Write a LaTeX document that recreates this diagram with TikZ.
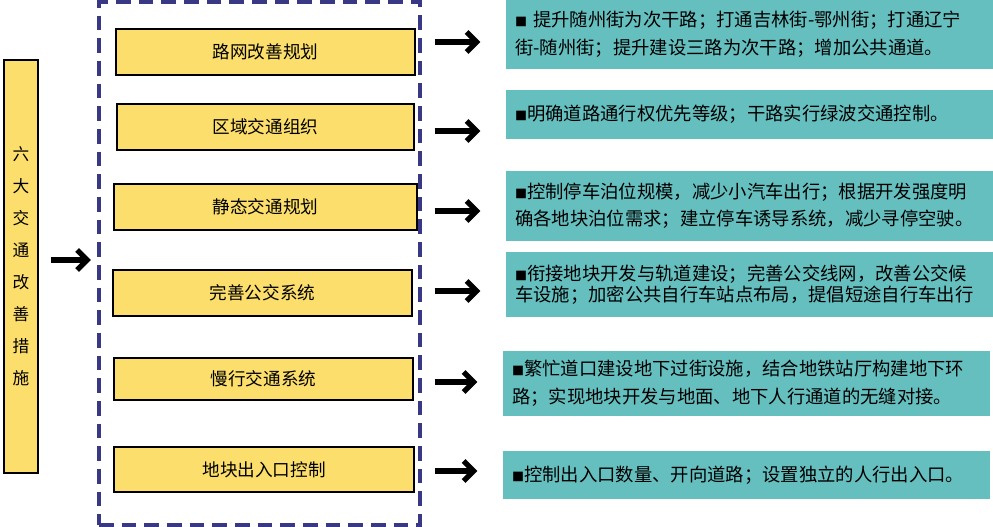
\documentclass[tikz,border=0pt]{standalone}
\usepackage{fontspec}
\setmainfont{Noto Sans CJK SC}
\usetikzlibrary{arrows.meta}
\definecolor{yboxc}{HTML}{FCDE6C}
\definecolor{tboxc}{HTML}{66BFBF}
\definecolor{navyc}{HTML}{383885}
\newcommand{\tbul}{{\fontsize{9}{9}\selectfont ■}}
\begin{document}
\begin{tikzpicture}[x=0.75pt,y=-0.75pt,
  sz/.style 2 args={minimum width=#1*0.75pt, minimum height=#2*0.75pt},
  ybox/.style={draw=black, line width=0.8pt, fill=yboxc, inner sep=0pt,
    font=\fontsize{13.2}{15}\selectfont},
  tbox/.style={fill=tboxc, inner xsep=9*0.75pt, inner ysep=0pt, align=left,
    text width=469*0.75pt, font=\fontsize{13.75}{21}\selectfont},
  frame/.style={draw=navyc, line width=2.3pt, dash pattern=on 11pt off 6pt},
  arr/.style={line width=4pt, -{Straight Barb[length=7.5pt, width=15pt]}}
]
\useasboundingbox (0,0) rectangle (993,527);
% left vertical box
\node[ybox, sz={34}{413}, align=center, font=\fontsize{12.5}{24}\selectfont]
  (lbox) at (21,266.5) {六\\大\\交\\通\\改\\善\\措\\施};
% dashed container
\node[frame, sz={321}{523}] (container) at (259.5,263.5) {};
% yellow boxes
\node[ybox, sz={299}{46}] (y1) at (265.5,52) {路网改善规划};
\node[ybox, sz={297}{46}] (y2) at (265.5,127) {区域交通组织};
\node[ybox, sz={303}{46}] (y3) at (265.5,207) {静态交通规划};
\node[ybox, sz={299}{46}] (y4) at (262.5,293) {完善公交系统};
\node[ybox, sz={299}{42}] (y5) at (263.5,379) {慢行交通系统};
\node[ybox, sz={300}{45}] (y6) at (264,469.5) {地块出入口控制};
% teal boxes
\node[tbox, sz={487}{69}] (t1) at (749.5,34.5)
  {\tbul\ 提升随州街为次干路；打通吉林街-鄂州街；打通辽宁\\街-随州街；提升建设三路为次干路；增加公共通道。};
\node[tbox, sz={487}{49}] (t2) at (749.5,114.5)
  {\tbul 明确道路通行权优先等级；干路实行绿波交通控制。};
\node[tbox, sz={487}{70}, font=\fontsize{13.75}{20.5}\selectfont] (t3) at (749.5,206)
  {\tbul 控制停车泊位规模，减少小汽车出行；根据开发强度明\\确各地块泊位需求；建立停车诱导系统，减少寻停空驶。};
\node[tbox, sz={487}{65}, font=\fontsize{13.75}{15.75}\selectfont] (t4) at (749.5,284.5)
  {\tbul 衔接地块开发与轨道建设；完善公交线网，改善公交候\\车设施；加密公共自行车站点布局，提倡短途自行车出行};
\node[tbox, sz={487}{65}] (t5) at (746.5,383.5)
  {\tbul 繁忙道口建设地下过街设施，结合地铁站厅构建地下环\\路；实现地块开发与地面、地下人行通道的无缝对接。};
\node[tbox, sz={487}{48}] (t6) at (746.5,475)
  {\tbul 控制出入口数量、开向道路；设置独立的人行出入口。};
% arrow levels
\coordinate (h0) at (0,260);
\coordinate (h1) at (0,42);
\coordinate (h2) at (0,131);
\coordinate (h3) at (0,211);
\coordinate (h4) at (0,291);
\coordinate (h5) at (0,382);
\coordinate (h6) at (0,471);
\draw[arr, shorten <=9pt, shorten >=5pt] (lbox.east |- h0) -- (container.west |- h0);
\foreach \i in {1,...,6}{
  \draw[arr, shorten <=9.75pt, shorten >=19pt] (container.east |- h\i) -- (t\i.west |- h\i);
}
\end{tikzpicture}
\end{document}
